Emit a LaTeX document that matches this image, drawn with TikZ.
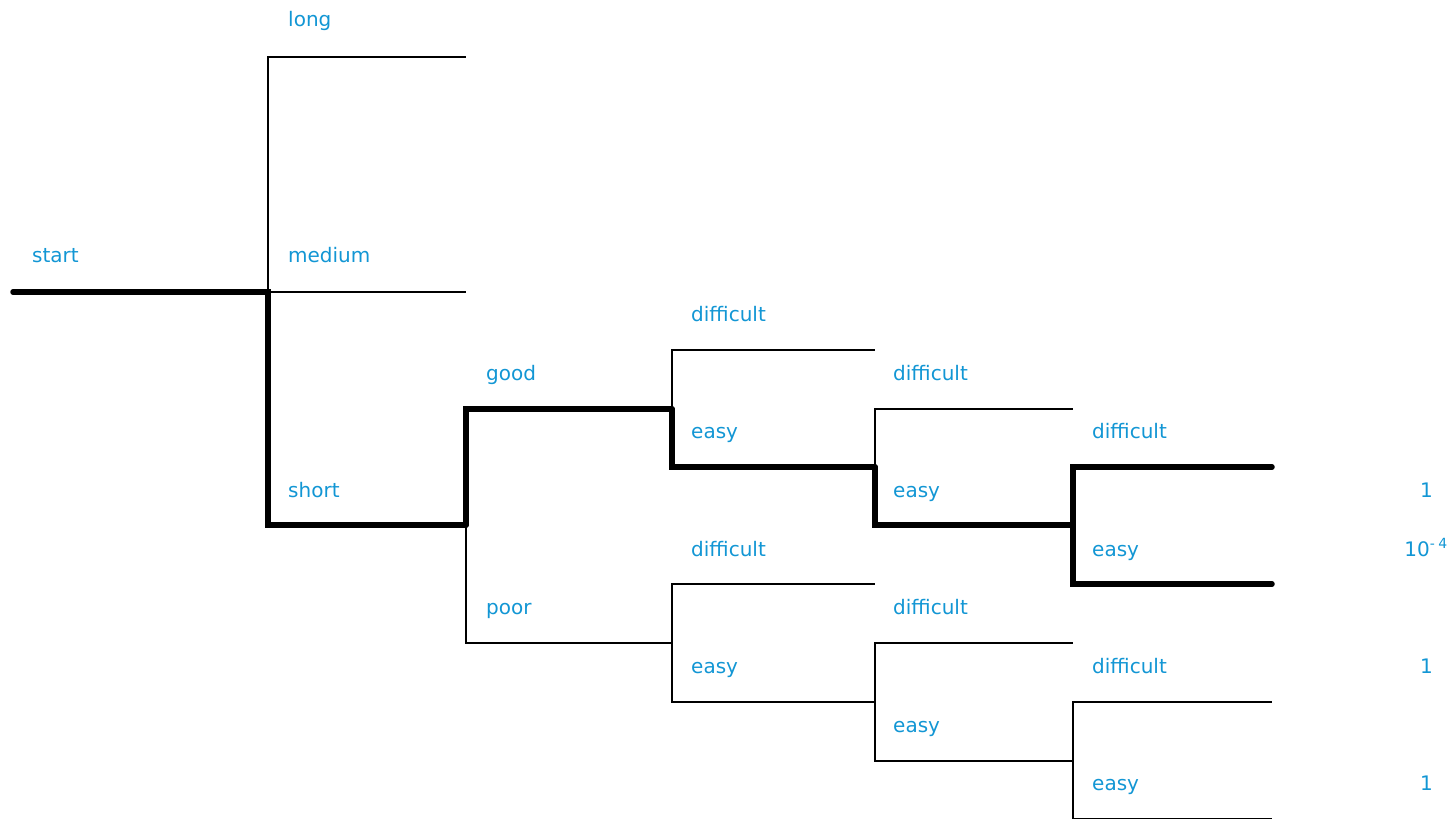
\documentclass[tikz,border=0pt]{standalone}
\usepackage{fontspec}
\setmainfont{DejaVu Sans}
\definecolor{labelblue}{RGB}{18,150,212}
\begin{document}
\begin{tikzpicture}[x=1pt,y=-1pt,
  thinbranch/.style={line width=2.4pt},
  thickbranch/.style={line width=5.5pt,line cap=round},
  lbl/.style={anchor=base west,inner sep=0pt,text=labelblue,font=\fontsize{20}{24}\selectfont},
  val/.style={anchor=base east,inner sep=0pt,text=labelblue,font=\fontsize{20}{24}\selectfont}]
\useasboundingbox (0,0) rectangle (1452,819);

% junction points of the tree
\coordinate (s0) at (13,292);
\coordinate (r) at (268,292);
\coordinate (long) at (466,57);
\coordinate (medium) at (466,292);
\coordinate (short) at (466,525);
\coordinate (good) at (672,409);
\coordinate (poor) at (672,643);
\coordinate (gd) at (875,350);
\coordinate (ge) at (875,467);
\coordinate (ged) at (1073,409);
\coordinate (gee) at (1073,525);
\coordinate (geed) at (1272,467);
\coordinate (geee) at (1272,584);
\coordinate (pd) at (875,584);
\coordinate (pe) at (875,702);
\coordinate (ped) at (1073,643);
\coordinate (pee) at (1073,761);
\coordinate (peed) at (1272,702);
\coordinate (peee) at (1272,819);

% ordinary branches
\draw[thinbranch] (r) |- (long);
\draw[thinbranch] (r) -- (medium);
\draw[thinbranch] (short) |- (poor);
\draw[thinbranch] (good) |- (gd);
\draw[thinbranch] (ge) |- (ged);
\draw[thinbranch] (poor) |- (pd);
\draw[thinbranch] (poor) |- (pe);
\draw[thinbranch] (pe) |- (ped);
\draw[thinbranch] (pe) |- (pee);
\draw[thinbranch] (pee) |- (peed);
\draw[thinbranch] (pee) |- (peee);

% highlighted path
\draw[thickbranch] (s0) -- (r) |- (short);
\draw[thickbranch] (short) |- (good);
\draw[thickbranch] (good) |- (ge);
\draw[thickbranch] (ge) |- (gee);
\draw[thickbranch] (gee) |- (geed);
\draw[thickbranch] (gee) |- (geee);

% branch labels
\node[lbl] (tstart) at (32,262) {start};
\node[lbl] (tlong) at (288,27) {long};
\node[lbl] (tmedium) at (288,262) {medium};
\node[lbl] (tshort) at (288,497) {short};
\node[lbl] (tgood) at (486,380) {good};
\node[lbl] (tpoor) at (486,614) {poor};
\node[lbl] (tgd) at (691,321) {difficult};
\node[lbl] (tge) at (691,438) {easy};
\node[lbl] (tged) at (893,380) {difficult};
\node[lbl] (tgee) at (893,497) {easy};
\node[lbl] (tgeed) at (1092,438) {difficult};
\node[lbl] (tgeee) at (1092,556) {easy};
\node[lbl] (tpd) at (691,556) {difficult};
\node[lbl] (tpe) at (691,673) {easy};
\node[lbl] (tped) at (893,614) {difficult};
\node[lbl] (tpee) at (893,732) {easy};
\node[lbl] (tpeed) at (1092,673) {difficult};
\node[lbl] (tpeee) at (1092,790) {easy};

% outcome values
\node[val] (v1) at (1433,497) {1};
\node[val] (v2) at (1448,556) {10\textsuperscript{-\hspace{0.25em}4}};
\node[val] (v3) at (1433,673) {1};
\node[val] (v4) at (1433,790) {1};
\end{tikzpicture}
\end{document}
